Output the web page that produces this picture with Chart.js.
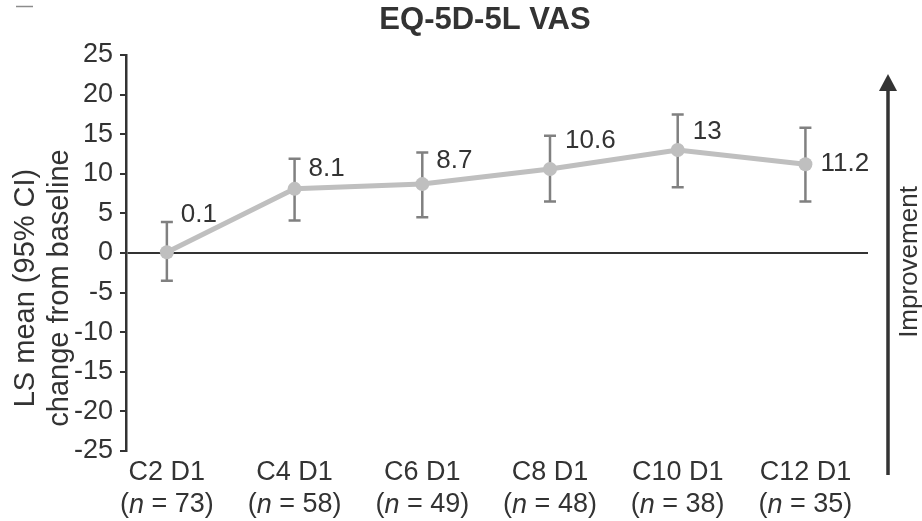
<!DOCTYPE html>
<html>
<head>
<meta charset="utf-8">
<script src="https://cdn.jsdelivr.net/npm/chart.js@4.4.1/dist/chart.umd.min.js"></script>
<style>
  html, body { margin: 0; padding: 0; background: #ffffff; }
  canvas { display: block; }
</style>
</head>
<body>
<canvas id="chart" width="922" height="521"></canvas>
<script>
// Visits and patient counts
const visits = ['C2 D1', 'C4 D1', 'C6 D1', 'C8 D1', 'C10 D1', 'C12 D1'];
const patientCounts = [73, 58, 49, 48, 38, 35];

// LS mean change from baseline with 95% CI
const lsMean = [0.1, 8.1, 8.7, 10.6, 13, 11.2];
const ciLower = [-3.5, 4.1, 4.5, 6.5, 8.3, 6.5];
const ciUpper = [3.9, 11.9, 12.7, 14.8, 17.5, 15.8];

// Y axis tick settings
const yMin = -25;
const yMax = 25;
const yStep = 5;

const FONT = "'Liberation Sans', Arial, sans-serif";
const TEXT = '#333333';
const LINE_GREY = '#bfbfbf';
const BAR_GREY = '#808080';

// value label placement (pixel offsets from each point)
const labelDx = [14, 14, 14, 15, 15, 15];
const labelDy = [-37, -20, -23, -28, -18, 0];

const decorations = {
  id: 'decorations',
  beforeDatasetsDraw(chart) {
    const { ctx, scales: { x, y } } = chart;
    ctx.save();
    ctx.strokeStyle = BAR_GREY;
    ctx.lineWidth = 2.5;
    for (let i = 0; i < lsMean.length; i++) {
      const px = x.getPixelForValue(i);
      const yU = y.getPixelForValue(ciUpper[i]);
      const yL = y.getPixelForValue(ciLower[i]);
      ctx.beginPath();
      ctx.moveTo(px, yU); ctx.lineTo(px, yL);
      ctx.moveTo(px - 6, yU); ctx.lineTo(px + 6, yU);
      ctx.moveTo(px - 6, yL); ctx.lineTo(px + 6, yL);
      ctx.stroke();
    }
    ctx.restore();
  },
  afterDatasetsDraw(chart) {
    const { ctx, scales: { x, y } } = chart;
    ctx.save();
    ctx.fillStyle = TEXT;
    ctx.font = `26px ${FONT}`;
    ctx.textAlign = 'left';
    ctx.textBaseline = 'middle';
    for (let i = 0; i < lsMean.length; i++) {
      const px = x.getPixelForValue(i);
      const py = y.getPixelForValue(lsMean[i]);
      ctx.fillText(String(lsMean[i]), px + labelDx[i], py + labelDy[i]);
    }
    ctx.restore();
  },
  afterDraw(chart) {
    const { ctx, chartArea, scales: { x } } = chart;
    ctx.save();
    ctx.fillStyle = TEXT;

    // title
    ctx.font = `bold 31px ${FONT}`;
    ctx.textAlign = 'center';
    ctx.textBaseline = 'middle';
    ctx.fillText('EQ-5D-5L VAS', 485, 20);

    // small mark in the top-left corner
    ctx.strokeStyle = '#8c8c8c';
    ctx.lineWidth = 1.5;
    ctx.beginPath();
    ctx.moveTo(16, 6.5); ctx.lineTo(33, 6.5);
    ctx.stroke();

    // category labels with patient counts
    ctx.textBaseline = 'middle';
    for (let i = 0; i < visits.length; i++) {
      const px = x.getPixelForValue(i);
      ctx.font = `27px ${FONT}`;
      ctx.textAlign = 'center';
      ctx.fillText(visits[i], px, chartArea.bottom + 22);

      // "(n = 73)" with italic n
      const parts = [
        { t: '(', f: `27px ${FONT}` },
        { t: 'n', f: `italic 27px ${FONT}` },
        { t: ' = ' + patientCounts[i] + ')', f: `27px ${FONT}` }
      ];
      let total = 0;
      parts.forEach(p => { ctx.font = p.f; p.w = ctx.measureText(p.t).width; total += p.w; });
      let cx = px - total / 2;
      ctx.textAlign = 'left';
      parts.forEach(p => { ctx.font = p.f; ctx.fillText(p.t, cx, chartArea.bottom + 54); cx += p.w; });
    }

    // y axis title (two lines, rotated)
    ctx.font = `29px ${FONT}`;
    ctx.textAlign = 'center';
    ctx.textBaseline = 'alphabetic';
    ctx.save();
    ctx.translate(34, 288);
    ctx.rotate(-Math.PI / 2);
    ctx.fillText('LS mean (95% CI)', 0, 0);
    ctx.restore();
    ctx.save();
    ctx.translate(68, 288);
    ctx.rotate(-Math.PI / 2);
    ctx.fillText('change from baseline', 0, 0);
    ctx.restore();

    // improvement arrow
    const ax = 888;
    ctx.strokeStyle = TEXT;
    ctx.lineWidth = 3.5;
    ctx.beginPath();
    ctx.moveTo(ax, 475); ctx.lineTo(ax, 88);
    ctx.stroke();
    ctx.beginPath();
    ctx.moveTo(ax, 74);
    ctx.lineTo(ax - 9, 91);
    ctx.lineTo(ax + 9, 91);
    ctx.closePath();
    ctx.fill();

    ctx.save();
    ctx.translate(910, 262);
    ctx.rotate(-Math.PI / 2);
    ctx.textAlign = 'center';
    ctx.textBaseline = 'middle';
    ctx.font = `26px ${FONT}`;
    ctx.fillText('Improvement', 0, 0);
    ctx.restore();

    ctx.restore();
  }
};

new Chart(document.getElementById('chart'), {
  type: 'line',
  data: {
    datasets: [{
      data: lsMean.map((v, i) => ({ x: i, y: v })),
      borderColor: LINE_GREY,
      backgroundColor: LINE_GREY,
      borderWidth: 5,
      pointRadius: 7,
      pointHoverRadius: 7,
      pointBackgroundColor: LINE_GREY,
      pointBorderWidth: 0,
      tension: 0
    }]
  },
  options: {
    responsive: false,
    animation: false,
    layout: { padding: { left: 0, right: 54, top: 55, bottom: 0 } },
    plugins: {
      legend: { display: false },
      tooltip: { enabled: false },
      title: { display: false }
    },
    scales: {
      x: {
        type: 'linear',
        min: -0.32,
        max: 5.49,
        grid: { display: false },
        border: { display: false },
        ticks: { display: false },
        afterFit(scale) { scale.height = 70; }
      },
      y: {
        min: yMin,
        max: yMax,
        ticks: {
          stepSize: yStep,
          color: TEXT,
          padding: 7,
          font: { family: FONT, size: 27 }
        },
        grid: {
          drawOnChartArea: true,
          color: ctx => (ctx.tick && ctx.tick.value === 0 ? TEXT : 'rgba(0,0,0,0)'),
          lineWidth: 2,
          tickColor: TEXT,
          tickLength: 6,
          tickWidth: 2
        },
        border: { display: true, color: TEXT, width: 2.5 },
        afterFit(scale) { scale.width = 126; }
      }
    }
  },
  plugins: [decorations]
});
</script>
</body>
</html>
